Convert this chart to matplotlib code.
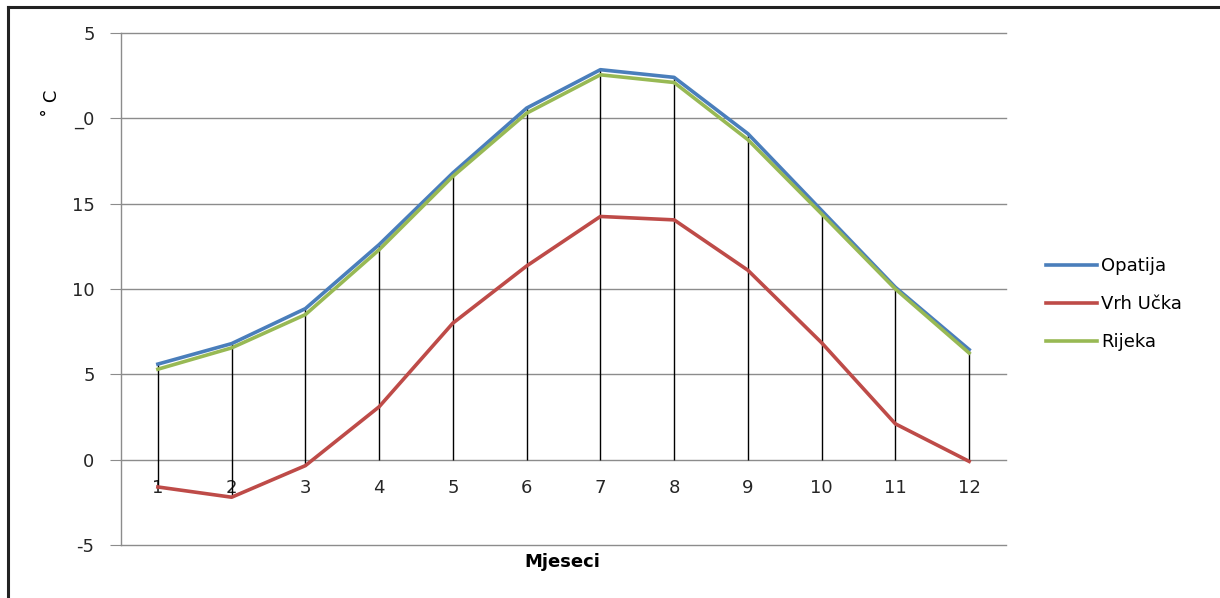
import matplotlib.pyplot as plt
from matplotlib.lines import Line2D
import numpy as np

months = list(range(1, 13))
opatija = [5.6, 6.8, 8.85, 12.6, 16.8, 20.6, 22.85, 22.4, 19.1, 14.6, 10.1, 6.45]
vrh_ucka = [-1.6, -2.2, -0.35, 3.1, 8.0, 11.35, 14.25, 14.05, 11.1, 6.85, 2.1, -0.1]
rijeka = [5.3, 6.55, 8.5, 12.3, 16.6, 20.3, 22.55, 22.1, 18.75, 14.4, 10.0, 6.25]
y_ticks = [-5, 0, 5, 10, 15, 20, 25]
y_tick_labels = ['-5', '0', '5', '10', '15', '_0', '5']

fig = plt.figure(figsize=(12.2, 5.98), dpi=100)
ax = fig.add_axes([121 / 1220, 1 - 545 / 598, 885 / 1220, 512 / 598])

grid_c = '#8c8c8c'
ax.set_xlim(0.5, 12.5)
ax.set_ylim(-5, 25)
ax.set_yticks(y_ticks)
ax.set_yticklabels(y_tick_labels)
ax.yaxis.grid(True, color=grid_c, lw=1)
for gl in ax.get_ygridlines():
    gl.set_clip_on(False)
ax.set_axisbelow(True)
ax.tick_params(axis='y', length=8, color=grid_c, pad=11, labelsize=13, labelcolor='#262626')

ax.set_xticks(months)
ax.spines['bottom'].set_position(('data', 0))
ax.spines['bottom'].set_visible(False)
ax.tick_params(axis='x', length=0, pad=14, labelsize=13, labelcolor='#262626')

for s in ['top', 'right']:
    ax.spines[s].set_visible(False)
ax.spines['left'].set_color(grid_c)
ax.spines['left'].set_linewidth(1)

# drop lines from each series to the axis
all_vals = np.array([opatija, vrh_ucka, rijeka])
lo = np.minimum(all_vals.min(axis=0), 0)
hi = np.maximum(all_vals.max(axis=0), 0)
ax.vlines(months, lo, hi, color='black', lw=1, zorder=2)

ax.plot(months, opatija, color='#4a7ebb', lw=2.6, label='Opatija', zorder=3)
ax.plot(months, vrh_ucka, color='#be4b48', lw=2.6, label='Vrh Učka', zorder=3)
ax.plot(months, rijeka, color='#98b954', lw=2.6, label='Rijeka', zorder=3)

ax.legend(loc='center left', bbox_to_anchor=(1030 / 1220, 1 - 304 / 598),
          bbox_transform=fig.transFigure, frameon=False, fontsize=13,
          handlelength=2.8, handletextpad=0.25, labelspacing=1.1)

fig.text(562 / 1220, 1 - 562 / 598, 'Mjeseci', ha='center', va='center',
         fontsize=13, fontweight='bold')
fig.text(52 / 1220, 1 - 103 / 598, '˚ C', ha='center', va='center',
         rotation=90, fontsize=13)

# outer frame (left and top edges)
fig.add_artist(Line2D([8 / 1220, 8 / 1220], [0, 1 - 7 / 598], color='#222222', lw=2.2))
fig.add_artist(Line2D([8 / 1220, 1], [1 - 7 / 598, 1 - 7 / 598], color='#222222', lw=2.2))

fig.savefig('out.png', dpi=100)
